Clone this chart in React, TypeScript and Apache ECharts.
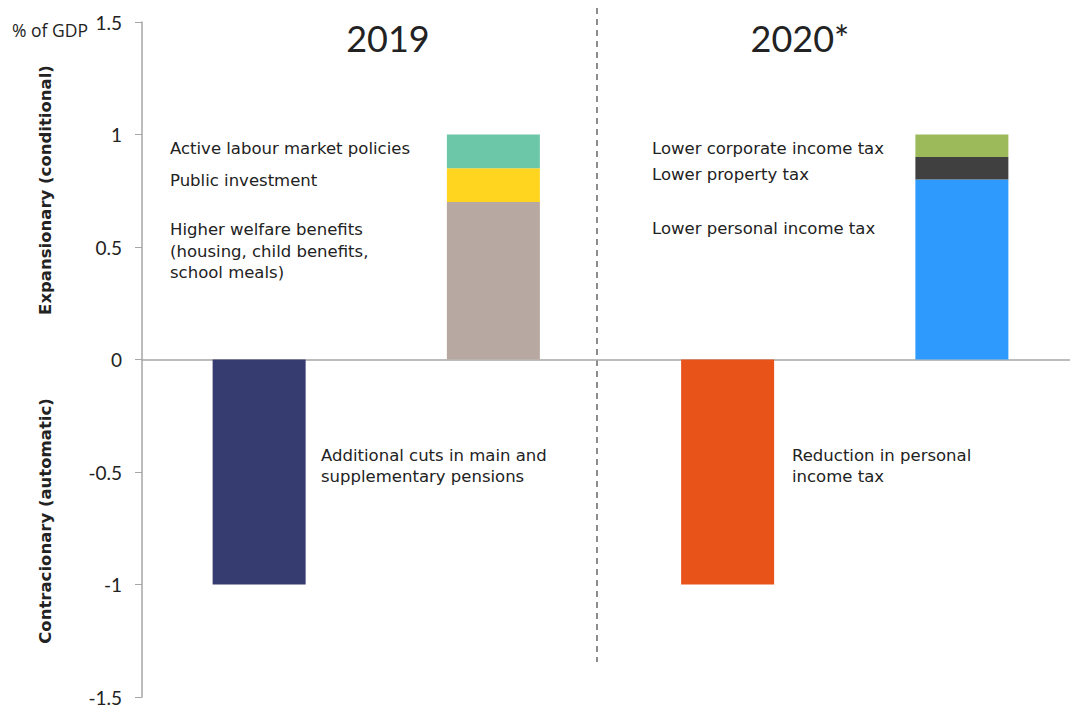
import React, { useEffect, useRef } from "react";
import * as echarts from "echarts";

const categories = ["2019 contr", "2019 exp", "2020 contr", "2020 exp"];
const baseValues = [-1, 0.7, -1, 0.8];
const midValues = [null, 0.15, null, 0.1];
const topValues = [null, 0.15, null, 0.1];
const baseColors = ["#363B70", "#B7A9A1", "#E8531A", "#2E9AFE"];
const midColors = ["#000", "#FFD520", "#000", "#404040"];
const topColors = ["#000", "#6CC7A8", "#000", "#9CBA59"];
const yTicks = { min: -1.5, max: 1.5, interval: 0.5 };
const periodTitles = ["2019", "2020*"];

const txt = "#222";
const annFont = "DejaVu Sans";

function ann(text: string, x: number, y: number) {
  return {
    type: "text",
    x,
    y,
    style: { text, fill: txt, fontFamily: annFont, fontSize: 16.5, textVerticalAlign: "middle" },
  };
}

export default function App() {
  const ref = useRef<HTMLDivElement>(null);
  useEffect(() => {
    const chart = echarts.init(ref.current!, undefined, { renderer: "svg" });
    const mk = (vals: (number | null)[], cols: string[]) =>
      vals.map((v, i) => (v === null ? "-" : { value: v, itemStyle: { color: cols[i] } }));
    chart.setOption({
      animation: false,
      grid: { left: 142, top: 22, right: 0, bottom: 11 },
      xAxis: {
        type: "category",
        data: categories,
        axisLine: { onZero: true, lineStyle: { color: "#A6A6A6", width: 1.5 } },
        axisTick: { show: false },
        axisLabel: { show: false },
        splitLine: { show: false },
      },
      yAxis: {
        type: "value",
        min: yTicks.min,
        max: yTicks.max,
        interval: yTicks.interval,
        axisLine: { show: true, lineStyle: { color: "#A6A6A6", width: 1.5 } },
        axisTick: { show: true, length: 7, lineStyle: { color: "#A6A6A6" } },
        axisLabel: {
          margin: 20,
          color: txt,
          fontSize: 19,
          fontFamily: "Lato, sans-serif",
          formatter: (v: number) => String(v),
        },
        splitLine: { show: false },
      },
      series: [
        { type: "bar", stack: "s", barWidth: 93, data: mk(baseValues, baseColors) },
        { type: "bar", stack: "s", barWidth: 93, data: mk(midValues, midColors) },
        { type: "bar", stack: "s", barWidth: 93, data: mk(topValues, topColors) },
      ],
      graphic: [
        {
          type: "line",
          shape: { x1: 597, y1: 8, x2: 597, y2: 662 },
          style: { stroke: "#8C8C8C", lineWidth: 2, lineDash: [6, 5] },
        },
        {
          type: "text",
          x: 12,
          y: 30,
          style: { text: "% of GDP", fill: txt, fontFamily: "Open Sans", fontSize: 17.5, textVerticalAlign: "middle" },
        },
        {
          type: "text",
          x: 388,
          y: 38,
          style: { text: periodTitles[0], fill: txt, fontFamily: "Lato", fontSize: 36, textAlign: "center", textVerticalAlign: "middle" },
        },
        {
          type: "text",
          x: 800,
          y: 38,
          style: { text: periodTitles[1], fill: txt, fontFamily: "Lato", fontSize: 36, textAlign: "center", textVerticalAlign: "middle" },
        },
        {
          type: "text",
          x: 45,
          y: 190,
          rotation: Math.PI / 2,
          style: { text: "Expansionary (conditional)", fill: txt, fontFamily: "DejaVu Sans", fontWeight: "bold", fontSize: 16.5, textAlign: "center", textVerticalAlign: "middle" },
        },
        {
          type: "text",
          x: 45,
          y: 521,
          rotation: Math.PI / 2,
          style: { text: "Contracionary (automatic)", fill: txt, fontFamily: "DejaVu Sans", fontWeight: "bold", fontSize: 16.5, textAlign: "center", textVerticalAlign: "middle" },
        },
        ann("Active labour market policies", 170, 148),
        ann("Public investment", 170, 180),
        ann("Higher welfare benefits", 170, 229),
        ann("(housing, child benefits,", 170, 251),
        ann("school meals)", 170, 272),
        ann("Additional cuts in main and", 321, 455),
        ann("supplementary pensions", 321, 476),
        ann("Lower corporate income tax", 652, 148),
        ann("Lower property tax", 652, 174),
        ann("Lower personal income tax", 652, 228),
        ann("Reduction in personal", 792, 455),
        ann("income tax", 792, 476),
      ],
    });
    return () => chart.dispose();
  }, []);
  return (
    <div style={{ position: "absolute", left: 0, top: 0, width: 1070, height: 708, overflow: "hidden", background: "#fff" }}>
      <div ref={ref} style={{ width: 1079, height: 708 }} />
    </div>
  );
}
